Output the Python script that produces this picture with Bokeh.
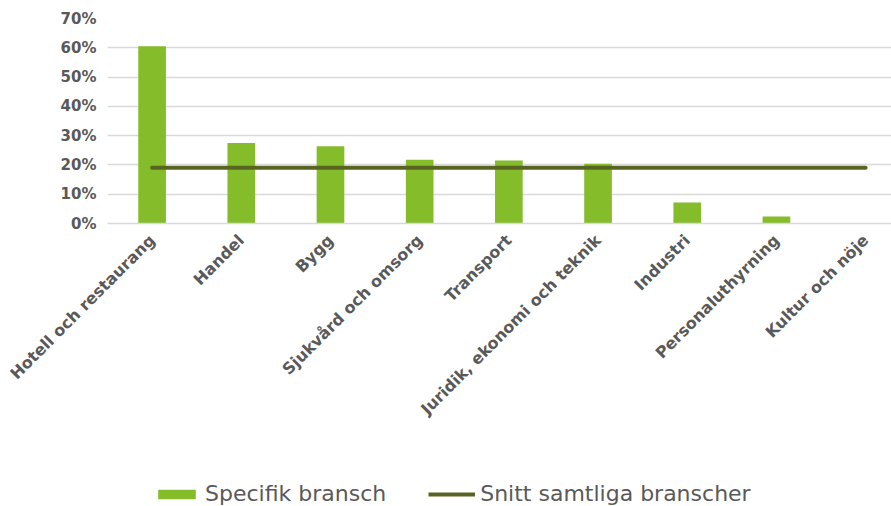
import math
from bokeh.plotting import figure
from bokeh.layouts import column
from bokeh.models import (Range1d, FixedTicker, NumeralTickFormatter, Legend,
                          LegendItem, ColumnDataSource)
from bokeh.embed import file_html
from bokeh.resources import INLINE

categories = ["Hotell och restaurang", "Handel", "Bygg", "Sjukvård och omsorg",
              "Transport", "Juridik, ekonomi och teknik", "Industri",
              "Personaluthyrning", "Kultur och nöje"]
specifik = [0.605, 0.275, 0.264, 0.218, 0.215, 0.204, 0.072, 0.024, 0.0]
snitt = [0.19, 0.19, 0.19, 0.19, 0.19, 0.19, 0.19, 0.19, 0.19]
y_ticks = [0.0, 0.1, 0.2, 0.3, 0.4, 0.5, 0.6, 0.7]
series_names = ["Specifik bransch", "Snitt samtliga branscher"]

bar_color = "#84BC2A"
line_color = "#586522"
grey = "#595959"
font = "DejaVu Sans"

xs = list(range(len(categories)))
src = ColumnDataSource(dict(x=xs, cat=categories, spec=specifik, snitt=snitt))

p = figure(width=891, height=476, output_backend="svg", toolbar_location=None,
           x_range=Range1d(-0.5, 8.29), y_range=Range1d(0, 0.7),
           min_border_left=107, min_border_top=18, min_border_right=0,
           min_border_bottom=253)
p.outline_line_color = None

p.vbar(x="x", top="spec", width=0.31, source=src,
       fill_color=bar_color, line_color=None)
p.line(x="x", y="snitt", source=src, line_width=4,
       line_color=line_color, line_cap="round")

p.xgrid.grid_line_color = None
p.ygrid.grid_line_color = "#d9d9d9"
p.ygrid.grid_line_width = 1.5
p.ygrid.ticker = FixedTicker(ticks=y_ticks)

p.yaxis.ticker = FixedTicker(ticks=y_ticks)
p.yaxis.formatter = NumeralTickFormatter(format="0%")
p.yaxis.axis_line_color = None
p.yaxis.major_tick_line_color = None
p.yaxis.minor_tick_line_color = None
p.yaxis.major_tick_out = 0
p.yaxis.major_label_standoff = 11
p.yaxis.major_label_text_font = font
p.yaxis.major_label_text_font_style = "bold"
p.yaxis.major_label_text_font_size = "15px"
p.yaxis.major_label_text_color = grey

p.xaxis.ticker = FixedTicker(ticks=xs)
p.xaxis.major_label_overrides = {i: c for i, c in zip(xs, categories)}
p.xaxis.axis_line_color = "#d9d9d9"
p.xaxis.axis_line_width = 1.5
p.xaxis.major_tick_line_color = None
p.xaxis.minor_tick_line_color = None
p.xaxis.major_tick_out = 0
p.xaxis.major_label_orientation = math.pi / 4
p.xaxis.major_label_standoff = 14
p.xaxis.major_label_text_font = font
p.xaxis.major_label_text_font_style = "bold"
p.xaxis.major_label_text_font_size = "16px"
p.xaxis.major_label_text_color = grey

# legend strip (renderers hidden; only their legend swatches are shown)
p2 = figure(width=891, height=30, output_backend="svg", toolbar_location=None,
            x_range=Range1d(-0.5, 8.29), y_range=Range1d(0, 0.7),
            x_axis_location=None, y_axis_location=None,
            min_border_left=0, min_border_right=0, min_border_top=0,
            min_border_bottom=0)
p2.outline_line_color = None
p2.xgrid.visible = False
p2.ygrid.visible = False
lb = p2.vbar(x="x", top="spec", width=0.31, source=src,
             fill_color=bar_color, line_color=None, visible=False)
ll = p2.line(x="x", y="snitt", source=src, line_width=4,
             line_color=line_color, visible=False)
legend = Legend(items=[LegendItem(label=series_names[0], renderers=[lb]),
                       LegendItem(label=series_names[1], renderers=[ll])],
                location=(46, 0), orientation="horizontal",
                glyph_width=47, glyph_height=12, label_standoff=5, spacing=42,
                padding=0, margin=0, border_line_color=None,
                background_fill_alpha=0, inactive_fill_alpha=0,
                label_text_font=font, label_text_font_size="22px",
                label_text_color=grey)
p2.add_layout(legend)

layout = column(p, p2, spacing=0)
open("out.html", "w").write(file_html(layout, INLINE))
